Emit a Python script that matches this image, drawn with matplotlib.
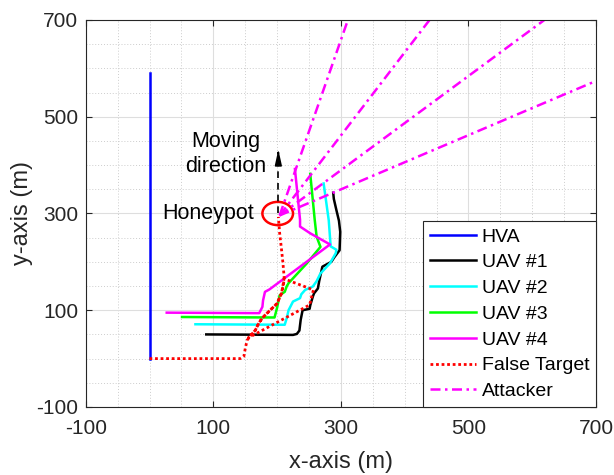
import matplotlib
matplotlib.use('Agg')
import matplotlib.pyplot as plt
from matplotlib.patches import Ellipse
from matplotlib.ticker import MultipleLocator

plt.rcParams['font.family'] = ['Liberation Sans', 'DejaVu Sans']
plt.rcParams['axes.unicode_minus'] = False

# trajectories (metres)
hva_x = [0, 0]
hva_y = [0, 590]

uav1_x = [89, 225, 231, 235, 237, 240, 251, 252, 256, 258, 264, 266, 271, 285, 290, 298, 299, 297, 293, 289, 288]
uav1_y = [50, 49, 51, 58, 80, 100, 103, 110, 128, 135, 145, 160, 190, 200, 210, 224, 262, 285, 307, 330, 343]

uav2_x = [72, 212, 215, 218, 225, 236, 238, 244, 256, 262, 268, 283, 292, 293, 284, 281, 273]
uav2_y = [71, 70, 83, 100, 118, 125, 133, 142, 149, 160, 176, 197, 218, 225, 232, 286, 362]

uav3_x = [51, 196, 200, 204, 212, 215, 218, 246, 268, 262, 259, 252]
uav3_y = [86, 85, 105, 131, 138, 149, 156, 196, 231, 252, 287, 382]

uav4_x = [27, 172, 177, 178, 181, 188, 283, 252, 236, 236, 228]
uav4_y = [95, 94, 107, 120, 138, 143, 236, 259, 273, 287, 392]

false_x = [0, 142, 148, 150, 153, 160, 166, 172, 179, 189, 200, 207, 211, 257, 251, 155,
           160, 166, 172, 179, 189, 200, 207, 211, 211, 209, 207, 204, 202]
false_y = [0, 0, 5, 20, 38, 50, 59, 75, 87, 100, 114, 135, 165, 142, 111, 43,
           50, 59, 75, 87, 100, 114, 135, 162, 170, 200, 225, 260, 293]

attack_start = (204, 296)
attack_end_x = [311, 439, 619, 700]
attack_end_y = [700, 700, 700, 574]

honeypot_xy = (201, 300)
honeypot_r = 24

fig = plt.figure(figsize=(6.14, 4.75), dpi=100)
ax = fig.add_axes([0.1396, 0.1432, 0.8311, 0.8147])

lw = 1.8
ax.plot(hva_x, hva_y, color=(0, 0, 1), lw=lw, label='HVA')
ax.plot(uav1_x, uav1_y, color='k', lw=lw, label='UAV #1')
ax.plot(uav2_x, uav2_y, color=(0, 1, 1), lw=lw, label='UAV #2')
ax.plot(uav3_x, uav3_y, color=(0, 1, 0), lw=lw, label='UAV #3')
ax.plot(uav4_x, uav4_y, color=(1, 0, 1), lw=lw, label='UAV #4')
ax.plot(false_x, false_y, color='r', ls=(0, (1, 1)), lw=2, label='False Target')
for i in range(len(attack_end_x)):
    ax.plot([attack_start[0], attack_end_x[i]], [attack_start[1], attack_end_y[i]],
            color=(1, 0, 1), ls=(0, (4, 1.8, 1, 1.8)), lw=lw, label='Attacker' if i == 0 else None)

ax.add_patch(Ellipse(honeypot_xy, 2 * honeypot_r, 2 * honeypot_r, fill=False, ec='r', lw=1.8))
ax.text(92, 300, 'Honeypot', fontsize=15.5, ha='center', va='center')

# moving direction arrow
ax.plot([202, 202], [300, 428], color='k', ls=(0, (4, 3)), lw=1.2)
ax.annotate('', xy=(202, 438), xytext=(202, 418),
            arrowprops=dict(arrowstyle='-|>,head_width=0.2,head_length=0.9', color='k', lw=1.2))
ax.text(120, 423, 'Moving\ndirection', fontsize=15.5, ha='center', va='center', linespacing=1.3)

ax.set_xlim(-100, 700)
ax.set_ylim(-100, 700)
ax.set_xticks(range(-100, 701, 200))
ax.set_yticks(range(-100, 701, 200))
ax.xaxis.set_minor_locator(MultipleLocator(50))
ax.yaxis.set_minor_locator(MultipleLocator(50))
ax.grid(which='major', color='#dedede', lw=0.8, ls='-')
ax.grid(which='minor', color='#cdcdcd', lw=0.7, ls=(0, (1, 2)))
ax.set_axisbelow(True)
ax.tick_params(which='major', direction='in', length=4.5, width=0.8, top=True, right=True,
               labelsize=15, colors='#262626')
ax.tick_params(axis='x', pad=9)
ax.tick_params(axis='y', pad=5.5)
ax.tick_params(which='minor', length=0)
for s in ax.spines.values():
    s.set_color('#262626')
    s.set_linewidth(0.8)

ax.set_xlabel('x-axis (m)', fontsize=17, color='#262626', labelpad=9)
ax.set_ylabel('y-axis (m)', fontsize=17, color='#262626', labelpad=2.5)

leg = ax.legend(loc='lower right', fontsize=14, borderaxespad=0, fancybox=False,
                edgecolor='#262626', framealpha=1, handlelength=2.35, handletextpad=0.3,
                labelspacing=0.42, borderpad=0.35)
leg.get_frame().set_linewidth(0.8)

fig.savefig('out.png', dpi=100)
